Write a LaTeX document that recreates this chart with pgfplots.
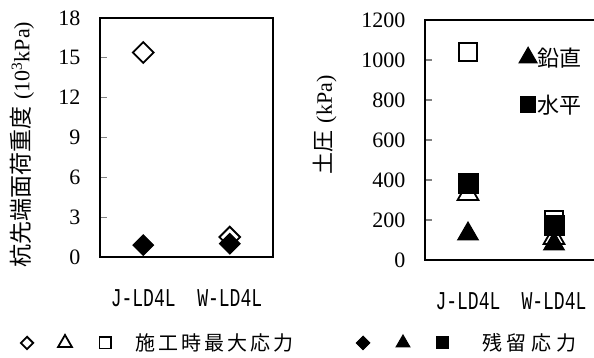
\documentclass[border=0pt]{standalone}
\usepackage{fontspec}
\setmainfont{Liberation Serif}
\setmonofont{Liberation Mono}
\newfontfamily\cjk{Noto Sans CJK JP}
\newfontfamily\cjksp[LetterSpace=15]{Noto Sans CJK JP}
\newfontfamily\cjkspb[LetterSpace=25]{Noto Sans CJK JP}
\usepackage{pgfplots}
\pgfplotsset{compat=1.18}
\newcommand{\xl}[1]{\scalebox{0.95}[1.35]{#1}}
\begin{document}
\begin{tikzpicture}[x=1pt,y=1pt]
\useasboundingbox (0,0) rectangle (594,358);
\pgfplotsset{
  myax/.style={
    scale only axis, clip=false,
    xmin=0, xmax=2,
    xtick={0.5,1.5},
    xticklabels={\xl{J-LD4L},\xl{W-LD4L}},
    x tick style={draw=none},
    extra x ticks={1}, extra x tick labels={},
    extra x tick style={tick style={draw=black, line width=1.2pt}},
    ytick pos=left, tick align=inside,
    major tick length=7pt,
    ytick style={line width=1.2pt},
    axis line style={line width=1.6pt},
    /pgf/number format/assume math mode=true,
    /pgf/number format/1000 sep={},
    y tick label style={font=\fontsize{22}{22}\selectfont, xshift=-16pt},
    x tick label style={font=\fontsize{19}{19}\selectfont\ttfamily, anchor=center, yshift=-41pt},
    legend cell align=left,
  },
  om/.style={only marks, mark options={line width=1.8pt, fill=white, solid}},
  fm/.style={only marks, mark options={line width=1pt, fill=black, solid}},
}
% left axis
\begin{axis}[myax, at={(100pt,101pt)}, anchor=south west,
  width=173pt, height=239pt,
  ymin=0, ymax=18, ytick={0,3,...,18},
  ylabel={{\cjk\fontsize{23}{23}\selectfont 杭先端面荷重度}\hspace{7pt}{\fontsize{22}{22}\selectfont(10\textsuperscript{3}kPa)}},
  ylabel style={at={(axis description cs:-0.451,0.47)}, anchor=center},
  legend columns=6,
  legend image code/.code={\path[draw=none,fill=none] (-7pt,-7pt) rectangle (7pt,7pt); \draw[#1] plot coordinates {(0pt,0pt)};},
  legend style={draw=none, fill=none, inner sep=0pt, outer sep=0pt,
    nodes={inner sep=0pt, outer sep=0pt}, column sep=0pt,
    at={(axis description cs:-0.4624,-0.3598)}, anchor=west,
    font=\fontsize{20}{20}\selectfont},
]
\addlegendimage{om, mark=square, mark size=4.4pt, every mark/.append style={rotate=45}}
\addlegendentry{\rule{24pt}{0pt}}
\addlegendimage{om, mark=triangle, mark size=8pt}
\addlegendentry{\rule{26pt}{0pt}}
\addlegendimage{om, mark=square, mark size=5.6pt}
\addlegendentry{\makebox[244pt][l]{\hspace{23pt}\cjksp 施工時最大応力}}
\addlegendimage{fm, mark=square*, mark size=4.8pt, every mark/.append style={rotate=45}}
\addlegendentry{\rule{26pt}{0pt}}
\addlegendimage{fm, mark=triangle*, mark size=8pt}
\addlegendentry{\rule{25pt}{0pt}}
\addlegendimage{fm, mark=square*, mark size=6pt}
\addlegendentry{\hspace{33pt}\cjkspb 残留応力}
\addplot[om, mark=square, mark size=7.3pt, every mark/.append style={rotate=45}] coordinates {(0.5,15.4) (1.5,1.5)};
\addplot[fm, mark=square*, mark size=7.3pt, every mark/.append style={rotate=45}] coordinates {(0.5,0.9) (1.5,1.0)};
\end{axis}
% right axis
\begin{axis}[myax, at={(425pt,98pt)}, anchor=south west,
  width=172pt, height=240pt,
  ymin=0, ymax=1200, ytick={0,200,...,1200},
  ylabel={{\cjk\fontsize{22}{22}\selectfont 土圧}\hspace{7pt}{\fontsize{22}{22}\selectfont(kPa)}},
  ylabel style={at={(axis description cs:-0.581,0.5625)}, anchor=center},
  legend image code/.code={\path[draw=none,fill=none] (-9pt,-9pt) rectangle (8pt,9pt); \draw[#1] plot coordinates {(0pt,0pt)};},
  legend style={draw=none, fill=none, inner sep=0pt, outer sep=0pt,
    nodes={inner sep=0pt, outer sep=0pt}, column sep=0pt, row sep=27pt,
    at={(axis description cs:0.5465,0.746)}, anchor=west,
    font=\cjk\fontsize{22}{22}\selectfont},
]
\addlegendimage{fm, mark=triangle*, mark size=10.5pt}
\addlegendentry{鉛直}
\addlegendimage{fm, mark=square*, mark size=7.8pt}
\addlegendentry{水平}
\addplot[om, mark=triangle, mark size=12pt] coordinates {(0.5,330) (1.5,110)};
\addplot[om, mark=square, mark size=9pt] coordinates {(0.5,1040) (1.5,200)};
\addplot[fm, mark=triangle*, mark size=12pt] coordinates {(0.5,130) (1.5,80)};
\addplot[fm, mark=square*, mark size=10pt] coordinates {(0.5,380) (1.5,170)};
\end{axis}
\end{tikzpicture}
\end{document}
